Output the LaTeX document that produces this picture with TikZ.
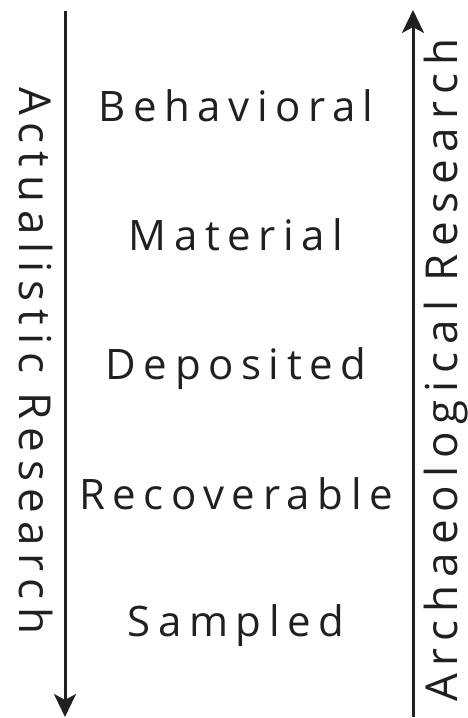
\documentclass[tikz,border=0pt]{standalone}
\usepackage{fontspec}
\setmainfont{Open Sans}[LetterSpace=18]
\usetikzlibrary{arrows.meta}
\definecolor{ink}{HTML}{231F20}
\tikzset{
  word/.style={inner sep=0pt, anchor=base, text=ink, font=\fontsize{42}{50}\selectfont},
  sideword/.style={inner sep=0pt, anchor=base west, text=ink, font=\fontsize{44}{52}\selectfont},
  arr/.style={draw=ink, line width=3pt, -{Stealth[length=23pt,width=22pt,inset=6pt]}}
}
\begin{document}
\begin{tikzpicture}[x=1pt,y=1pt]
\useasboundingbox (0,0) rectangle (467,718);
\coordinate (ls) at (65,707);
\coordinate (le) at (65,1);
\coordinate (rs) at (413,1);
\coordinate (re) at (413,708);
\draw[arr] (ls) -- (le);
\draw[arr] (rs) -- (re);
\node[word] (b) at (236,596) {Behavioral};
\node[word] (m) at (236,467) {Material};
\node[word] (d) at (236,338) {Deposited};
\node[word] (r) at (236,208) {Recoverable};
\node[word] (s) at (236,81) {Sampled};
\node[sideword, rotate=-90] (act) at (20,631) {Actualistic Research};
\node[sideword, rotate=90] (arch) at (457,16) {Archaeological Research};
\end{tikzpicture}
\end{document}
